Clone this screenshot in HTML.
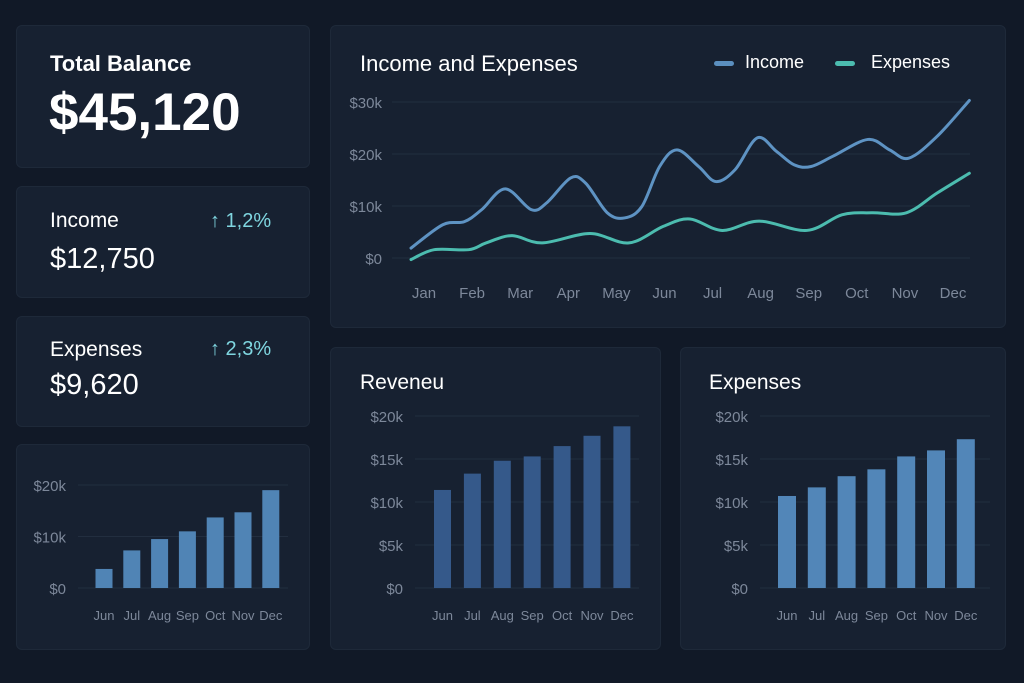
<!DOCTYPE html>
<html><head><meta charset="utf-8"><style>
html,body{margin:0;padding:0;background:#111927;width:1024px;height:683px;overflow:hidden;font-family:"Liberation Sans",sans-serif;color:#fff}
.card{position:absolute;background:#172131;border:1px solid #1e2939;border-radius:6px;box-sizing:border-box}
.t{position:absolute;white-space:nowrap}
svg{position:absolute;left:0;top:0}
</style></head><body>
<div class="card" style="left:16px;top:25px;width:294px;height:143px"></div>
<div class="card" style="left:16px;top:186px;width:294px;height:112px"></div>
<div class="card" style="left:16px;top:316px;width:294px;height:111px"></div>
<div class="card" style="left:16px;top:444px;width:294px;height:206px"></div>
<div class="card" style="left:330px;top:25px;width:676px;height:303px"></div>
<div class="card" style="left:330px;top:347px;width:331px;height:303px"></div>
<div class="card" style="left:680px;top:347px;width:326px;height:303px"></div>

<div class="t" style="left:50px;top:51px;font-size:22px;font-weight:bold">Total Balance</div>
<div class="t" style="left:49px;top:82px;font-size:53px;font-weight:bold">$45,120</div>
<div class="t" style="left:50px;top:209px;font-size:21px">Income</div>
<div class="t" style="left:210px;top:210px;font-size:20px;color:#7fd6e0">↑ 1,2%</div>
<div class="t" style="left:50px;top:243px;font-size:29px">$12,750</div>
<div class="t" style="left:50px;top:338px;font-size:21px">Expenses</div>
<div class="t" style="left:210px;top:338px;font-size:20px;color:#7fd6e0">↑ 2,3%</div>
<div class="t" style="left:50px;top:369px;font-size:29px">$9,620</div>
<div class="t" style="left:360px;top:51px;font-size:22px">Income and Expenses</div>
<div class="t" style="left:360px;top:371px;font-size:21px">Reveneu</div>
<div class="t" style="left:709px;top:371px;font-size:21px">Expenses</div>
<div class="t" style="left:714px;top:52px;font-size:18px"><span style="display:inline-block;width:20px;height:5px;border-radius:3px;background:#5b8fbf;vertical-align:middle;margin-right:11px"></span>Income</div>
<div class="t" style="left:835px;top:52px;font-size:18px"><span style="display:inline-block;width:20px;height:5px;border-radius:3px;background:#4cbcaf;vertical-align:middle;margin-right:16px"></span>Expenses</div>

<svg id="s" width="1024" height="683"></svg>
<script>
const months=["Jan","Feb","Mar","Apr","May","Jun","Jul","Aug","Sep","Oct","Nov","Dec"];
const lineTicks=[0,10,20,30];
const incomeT=[-0.27,0.39,0.84,1.2,1.69,2.23,2.55,3.05,3.36,3.81,4.17,4.53,4.9,5.26,5.71,6.07,6.47,6.93,7.33,7.7,8.05,8.51,9.23,9.68,10.08,10.67,11.34];
const incomeV=[1.9,6.4,7.0,9.3,13.3,9.3,10.6,15.4,14.4,8.7,7.7,9.9,17.6,20.8,17.6,14.7,17.0,23.1,20.5,17.9,17.6,19.6,22.8,20.8,19.2,23.4,30.3];
const expT=[-0.27,0.21,0.93,1.29,1.83,2.46,3.45,4.26,4.98,5.53,6.2,6.97,7.96,8.69,9.31,10.03,10.67,11.34];
const expV=[-0.3,1.6,1.6,2.9,4.3,2.9,4.7,2.9,6.1,7.5,5.3,7.1,5.3,8.3,8.7,8.7,12.5,16.3];
const barCats=["Jun","Jul","Aug","Sep","Oct","Nov","Dec"];
const miniVals=[3.7,7.3,9.5,11.0,13.7,14.7,19.0];
const miniTicks=[0,10,20];
const revVals=[11.4,13.3,14.8,15.3,16.5,17.7,18.8];
const expBarVals=[10.7,11.7,13.0,13.8,15.3,16.0,17.3];
const barTicks=[0,5,10,15,20];

const svg=document.getElementById('s');const NS="http://www.w3.org/2000/svg";
function mk(tag,attrs,txt){const e=document.createElementNS(NS,tag);for(const k in attrs)e.setAttribute(k,attrs[k]);if(txt!=null)e.textContent=txt;svg.appendChild(e);return e;}
const lx=t=>424+t*(953-424)/11, ly=v=>258-v*5.2;
lineTicks.forEach(v=>{
 const g=mk('line',{x1:392,x2:970,y1:ly(v),y2:ly(v),stroke:'#222e3f','stroke-width':1});
 
 
 const t=mk('text',{x:382,y:ly(v)+6,'text-anchor':'end','font-size':15,fill:'#7d889a'},'$'+(v?v+'k':'0'));
 
 
});
months.forEach((m,i)=>{
 const t=mk('text',{x:lx(i),y:298,'text-anchor':'middle','font-size':15,fill:'#7d889a'},m);
 
 
});
function smooth(T,V){const p=T.map((t,i)=>[lx(t),ly(V[i])]);let d='M'+p[0][0]+','+p[0][1];
 for(let i=0;i<p.length-1;i++){const p0=p[i-1]||p[i],p1=p[i],p2=p[i+1],p3=p[i+2]||p2;
  d+=` C${p1[0]+(p2[0]-p0[0])/6},${p1[1]+(p2[1]-p0[1])/6} ${p2[0]-(p3[0]-p1[0])/6},${p2[1]-(p3[1]-p1[1])/6} ${p2[0]},${p2[1]}`;}
 return d;}
const li=mk('path',{d:smooth(incomeT,incomeV),fill:'none',stroke:'#5e93c3','stroke-width':3,'stroke-linecap':'round'});


const le=mk('path',{d:smooth(expT,expV),fill:'none',stroke:'#4cbcaf','stroke-width':3,'stroke-linecap':'round'});



function bars(vals,ticks,o){
 const y=v=>o.y0-v*o.k;
 ticks.forEach(v=>{
  const g=mk('line',{x1:o.gx1,x2:o.gx2,y1:y(v),y2:y(v),stroke:'#222e3f','stroke-width':1});
  
  
  const t=mk('text',{x:o.gx1-12,y:y(v)+6,'text-anchor':'end','font-size':15,fill:'#7d889a'},'$'+(v?v+'k':'0'));
  
  
 });
 vals.forEach((v,i)=>{
  const cx=o.c0+i*o.sp;
  const r=mk('rect',{x:cx-o.w/2,y:y(v),width:o.w,height:v*o.k,fill:o.color});
  
  
  const t=mk('text',{x:cx,y:o.y0+32,'text-anchor':'middle','font-size':13,fill:'#7d889a'},barCats[i]);
  
  
 });
}
bars(miniVals,miniTicks,{name:'mini',y0:588,k:5.15,gx1:78,gx2:288,c0:104,sp:27.8,w:17,color:'#5084b5'});
bars(revVals,barTicks,{name:'revenue',y0:588,k:8.6,gx1:415,gx2:639,c0:442.5,sp:29.9,w:17,color:'#35598a'});
bars(expBarVals,barTicks,{name:'expenses',y0:588,k:8.6,gx1:760,gx2:990,c0:787,sp:29.8,w:18,color:'#5286b8'});
</script>
</body></html>
